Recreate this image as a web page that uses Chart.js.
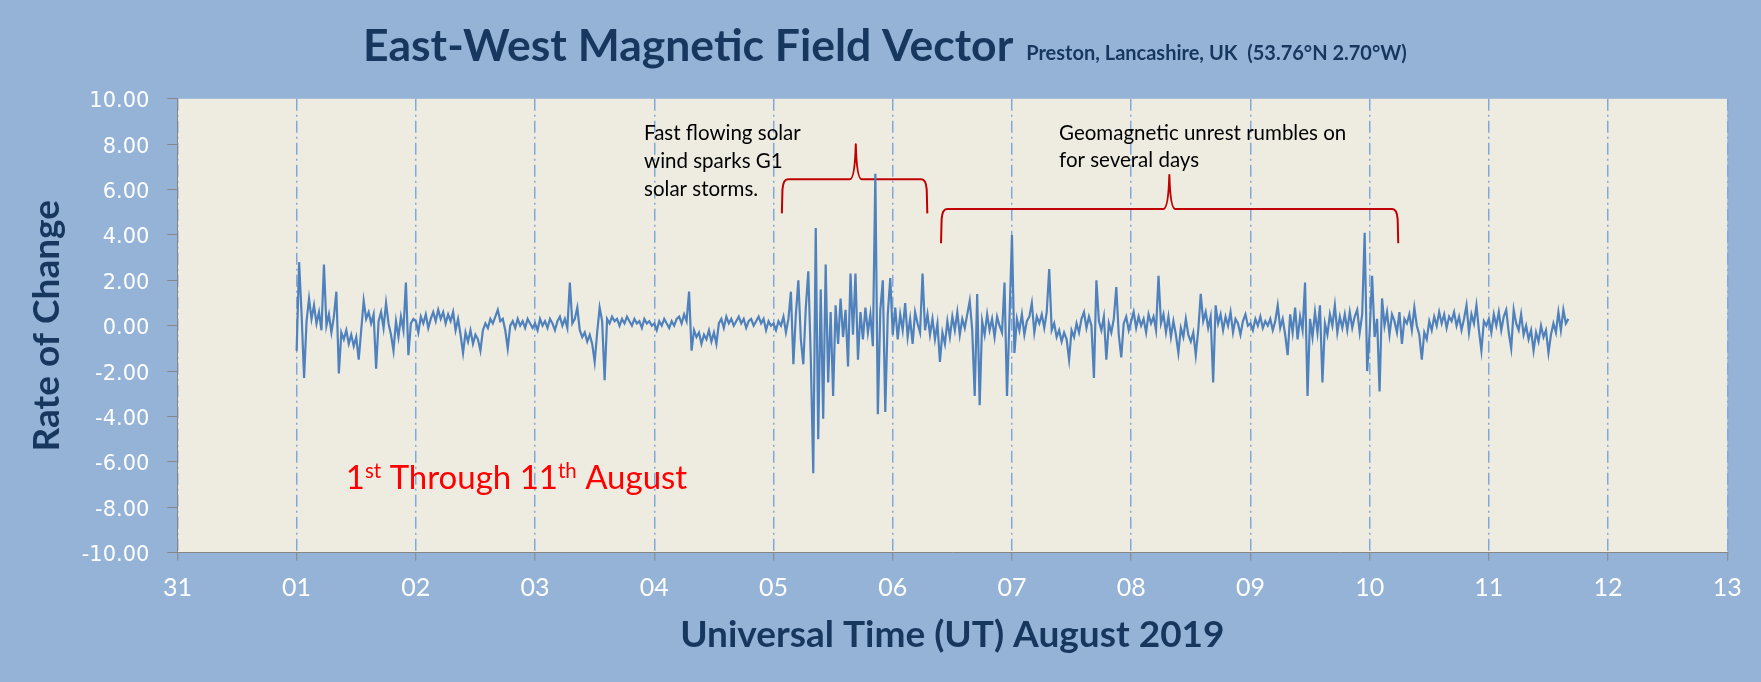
<!DOCTYPE html>
<html><head><meta charset="utf-8">
<script src="https://cdn.jsdelivr.net/npm/chart.js@4.4.1/dist/chart.umd.min.js"></script>
<style>
html,body{margin:0;padding:0;background:#95B3D7;}
canvas{display:block;}
</style></head><body>
<canvas id="c" width="1761" height="682"></canvas>
<script>
// ---- tick labels (day of month; 31 = 31 July) ----
const xTickLabels = ['31','01','02','03','04','05','06','07','08','09','10','11','12','13'];

// ---- rate of change, 30-minute samples, one array per UT day of August 2019 ----
const samplesPerDay = 48;
const aug01 = [-1.1,2.8,0.5,-2.3,0.2,1.2,0.3,0.9,0.1,0.6, -0.2,2.7,0.0,0.5,-0.3,0.4,1.5,-2.1,-0.3,-0.6, -0.2,-0.8,-0.4,-0.9,-0.5,-1.5,-0.2,1.1,0.3,0.6, 0.1,0.5,-1.9,0.2,0.6,-0.1,1.0,0.1,-0.4,-1.1, 0.2,-0.5,0.4,-0.2,1.9,-1.3,0.1,0.3];
const aug02 = [0.2,-0.3,0.4,0.1,0.5,-0.1,0.3,0.6,0.2,0.7, 0.3,0.6,0.1,0.5,0.2,0.6,-0.2,0.3,-0.4,-1.2, -0.3,-0.7,-0.2,-0.8,-0.4,-0.6,-1.1,-0.2,0.1,-0.1, 0.3,0.1,0.4,0.7,0.2,0.3,-0.2,-1.0,0.0,0.2, -0.1,0.3,0.0,0.2,-0.1,0.3,0.1,-0.1];
const aug03 = [0.1,-0.2,0.3,0.0,0.2,-0.1,0.3,0.1,-0.2,0.2, 0.4,0.0,0.3,-0.1,1.9,0.1,0.3,0.8,-0.2,-0.5, -0.3,-0.7,-0.4,-0.8,-1.6,-0.3,0.8,0.2,-2.4,0.3, 0.1,0.4,0.2,0.3,0.0,0.3,0.1,0.4,0.2,0.0, 0.3,0.1,0.2,-0.1,0.3,0.1,0.2,0.0];
const aug04 = [0.1,-0.2,0.2,0.0,0.3,0.1,-0.1,0.2,0.0,0.3, 0.4,0.1,0.5,0.2,1.5,-1.1,-0.2,-0.5,-0.3,-0.8, -0.4,-0.6,-0.2,-0.7,-0.3,-0.8,0.1,0.3,-0.1,0.4, 0.1,0.3,0.0,0.2,0.4,0.1,0.3,-0.1,0.2,0.3, 0.0,0.2,0.4,0.1,0.3,-0.2,0.2,0.0];
const aug05 = [0.1,-0.2,0.2,0.0,0.4,-0.3,0.3,1.5,-1.7,0.5, 2.0,-0.6,-1.7,0.8,2.4,-1.4,-6.5,4.3,-5.0,1.6, -4.1,2.7,-2.5,0.6,-3.1,0.9,-0.8,1.2,-0.5,0.7, -1.8,2.3,-0.4,2.3,-1.5,0.6,-0.6,0.8,-0.3,0.5, -0.9,6.7,-3.9,0.7,2.0,-3.8,0.5,2.1];
const aug06 = [-0.4,0.8,-0.6,0.5,-0.2,1.0,-0.5,0.3,-0.8,0.6, 0.1,-0.3,2.3,-0.2,0.5,-0.4,0.3,-0.6,0.1,-1.6, -0.3,-0.8,0.2,-0.5,0.4,-0.2,0.6,-0.4,0.3,-0.1, 0.5,1.1,-0.2,-3.1,1.4,-3.5,0.2,-0.4,0.5,-0.2, 0.3,-0.5,0.4,0.0,-0.3,1.9,-3.1,0.3];
const aug07 = [4.0,-1.2,0.3,-0.2,0.5,-0.4,0.2,0.4,1.0,-0.3, 0.4,0.1,0.5,-0.1,0.6,2.5,-0.2,0.1,-0.5,-0.2, -0.7,-0.3,-0.6,-1.5,-0.2,-0.5,0.1,-0.3,0.3,0.6, -0.1,0.4,0.0,-2.3,2.0,0.2,-0.2,0.4,-1.5,0.1, -0.3,0.3,1.7,-0.4,-1.4,0.1,0.4,-0.2];
const aug08 = [0.2,0.6,-0.1,0.4,0.0,0.3,-0.3,0.5,0.1,0.4, -0.2,2.2,0.1,0.5,-0.3,0.4,-0.5,0.2,-0.4,-1.2, -0.1,-0.5,0.3,-0.4,-0.7,-0.3,-1.3,-0.2,1.4,0.2, 0.6,-0.1,0.4,-2.5,0.9,0.1,0.5,-0.2,0.4,0.0, 0.6,-0.3,0.3,0.1,-0.4,0.2,0.5,0.0];
const aug09 = [0.1,-0.2,0.3,0.0,0.4,-0.1,0.2,0.0,0.3,-0.2, 0.2,0.9,-0.1,0.3,-0.4,-1.3,0.5,-0.3,0.8,-0.6, 0.4,-0.2,1.9,-3.1,0.3,-0.5,0.6,-0.3,0.9,-2.5, 0.1,-0.4,0.5,0.0,0.9,-0.3,0.4,-0.1,0.5,-0.2, 0.6,-0.1,0.4,0.7,-0.3,0.5,4.1,-2.0];
const aug10 = [-0.3,2.2,-0.5,0.3,-2.9,1.2,0.0,0.6,-0.4,0.5, 0.2,-0.3,0.6,-0.8,0.3,0.1,0.5,-0.2,0.8,0.0, -0.4,-1.5,-0.3,-0.6,0.2,-0.2,0.4,0.0,0.6,0.1, 0.5,-0.1,0.4,0.2,0.6,0.0,0.4,-0.2,0.3,0.9, -0.3,0.5,0.1,0.9,-0.2,-1.1,0.2,0.0];
const aug11 = [0.3,-0.3,0.5,0.0,0.6,-0.2,0.4,0.7,-0.3,-1.0, 0.7,0.1,-0.2,0.5,-0.4,0.0,-0.6,-0.2,-1.1,-0.3, -0.7,0.0,-0.5,-0.2,-1.2,-0.4,0.1,-0.3,0.6,-0.2, 0.7,0.1,0.3];
const dayStarts = [1,2,3,4,5,6,7,8,9,10,11];
const dailySeries = [aug01,aug02,aug03,aug04,aug05,aug06,aug07,aug08,aug09,aug10,aug11];

// ---- annotation braces (day, value): [left end, peak, right end] / [arm ends, bar, peak] ----
const braceFastX = [5.07, 5.69, 6.29];
const braceFastY = [4.95, 6.45, 8.0];
const braceUnrestX = [6.405, 8.32, 10.24];
const braceUnrestY = [3.63, 5.14, 6.64];
const noteFastLines = ['Fast flowing solar', 'wind sparks G1', 'solar storms.'];
const noteUnrestLines = ['Geomagnetic unrest rumbles on', 'for several days'];

// build the point table
const points = [];
dailySeries.forEach((vals, d) => {
  vals.forEach((v, i) => points.push({x: dayStarts[d] + i / samplesPerDay, y: v}));
});

const NAVY = '#17375E';
const FONT = 'Lato, "Open Sans", sans-serif';

function drawBrace(ctx, xs, ys, sx, sy) {
  const xl = sx.getPixelForValue(xs[0]), xp = sx.getPixelForValue(xs[1]), xr = sx.getPixelForValue(xs[2]);
  const ye = sy.getPixelForValue(ys[0]), yb = sy.getPixelForValue(ys[1]), yp = sy.getPixelForValue(ys[2]);
  ctx.beginPath();
  ctx.moveTo(xl, ye);
  ctx.lineTo(xl + 0.6, yb + 10);
  ctx.quadraticCurveTo(xl + 1.4, yb, xl + 6, yb);
  ctx.lineTo(xp - 6, yb);
  ctx.quadraticCurveTo(xp - 1, yb, xp, yp);
  ctx.quadraticCurveTo(xp + 1, yb, xp + 6, yb);
  ctx.lineTo(xr - 6, yb);
  ctx.quadraticCurveTo(xr - 1.4, yb, xr - 0.6, yb + 10);
  ctx.lineTo(xr, ye);
  ctx.stroke();
}

function drawRich(ctx, parts, x, y, size, weight) {
  let cx = x;
  parts.forEach(p => {
    const s = p.sup ? size * 0.62 : size;
    ctx.font = weight + ' ' + s + 'px ' + FONT;
    ctx.fillText(p.t, cx, p.sup ? y - size * 0.34 : y);
    cx += ctx.measureText(p.t).width;
  });
}

const decor = {
  id: 'decor',
  beforeDraw(chart) {
    const {ctx, chartArea: a} = chart;
    ctx.save();
    ctx.fillStyle = '#EEECE1';
    ctx.fillRect(a.left, a.top, a.right - a.left, a.bottom - a.top);
    ctx.restore();
  },
  beforeDatasetsDraw(chart) {
    const {ctx, scales: {x, y}} = chart;
    ctx.save();
    ctx.strokeStyle = '#C00000';
    ctx.lineWidth = 2;
    ctx.lineJoin = 'round';
    drawBrace(ctx, braceFastX, braceFastY, x, y);
    drawBrace(ctx, braceUnrestX, braceUnrestY, x, y);
    ctx.restore();
  },
  afterDraw(chart) {
    const {ctx, scales: {x, y}} = chart;
    ctx.save();
    ctx.textBaseline = 'alphabetic';
    ctx.textAlign = 'left';
    // main title + location
    ctx.fillStyle = NAVY;
    ctx.font = 'bold 44.5px ' + FONT;
    ctx.fillText('East-West Magnetic Field Vector', 363, 61);
    const tw = ctx.measureText('East-West Magnetic Field Vector').width;
    ctx.font = 'bold 20px ' + FONT;
    ctx.fillText('Preston, Lancashire, UK  (53.76\u00B0N 2.70\u00B0W)', 363 + tw + 13, 60);
    // notes
    ctx.fillStyle = '#000000';
    ctx.font = '20.5px ' + FONT;
    const lh = 27.8;
    const fx = x.getPixelForValue(3.914), fy = y.getPixelForValue(8.18);
    noteFastLines.forEach((t, i) => ctx.fillText(t, fx, fy + i * lh));
    const ux = x.getPixelForValue(7.395), uy = y.getPixelForValue(8.18);
    noteUnrestLines.forEach((t, i) => ctx.fillText(t, ux, uy + i * 27));
    // date range note
    ctx.fillStyle = '#FF0000';
    drawRich(ctx, [{t:'1'},{t:'st',sup:true},{t:' Through 11'},{t:'th',sup:true},{t:' August'}],
      x.getPixelForValue(1.413), y.getPixelForValue(-7.21), 33, 'normal');
    ctx.restore();
  }
};

new Chart(document.getElementById('c'), {
  type: 'line',
  data: {
    datasets: [{
      data: points,
      borderColor: '#4F81BD',
      borderWidth: 2.2,
      pointRadius: 0,
      fill: false,
      tension: 0
    }]
  },
  options: {
    responsive: false,
    animation: false,
    layout: {padding: {top: 98.8, right: 33.7, left: 0, bottom: 0}},
    plugins: {legend: {display: false}, tooltip: {enabled: false}, title: {display: false}},
    scales: {
      x: {
        type: 'linear', min: 0, max: 13,
        afterFit(s) { s.height = 682 - 552.6; },
        ticks: {
          stepSize: 1, autoSkip: false, maxRotation: 0,
          callback: v => xTickLabels[v],
          color: '#FFFFFF', font: {family: FONT, size: 25}, padding: 12
        },
        grid: {color: '#82A8DA', lineWidth: 1.5, tickLength: 8, tickColor: '#868686', tickWidth: 1, tickBorderDash: []},
        border: {display: true, color: '#868686', width: 1, dash: [12, 4, 2, 4]},
        title: {display: true, text: 'Universal Time (UT) August 2019', color: NAVY,
          font: {family: FONT, size: 37, weight: 'bold'}, padding: {top: 0, bottom: 25}}
      },
      y: {
        min: -10, max: 10,
        afterFit(s) { s.width = 177.4; },
        ticks: {
          stepSize: 2, callback: v => v.toFixed(2),
          color: '#FFFFFF', font: {family: '"DejaVu Sans", Verdana, sans-serif', size: 21}, padding: 18, labelOffset: 3
        },
        grid: {drawOnChartArea: false, drawTicks: true, tickLength: 10, color: '#868686', tickColor: '#868686'},
        border: {display: true, color: '#868686', width: 1},
        title: {display: true, text: 'Rate of Change', color: NAVY,
          font: {family: FONT, size: 37, weight: 'bold'}, padding: {top: 25, bottom: 0}}
      }
    }
  },
  plugins: [decor]
});
</script>
</body></html>
